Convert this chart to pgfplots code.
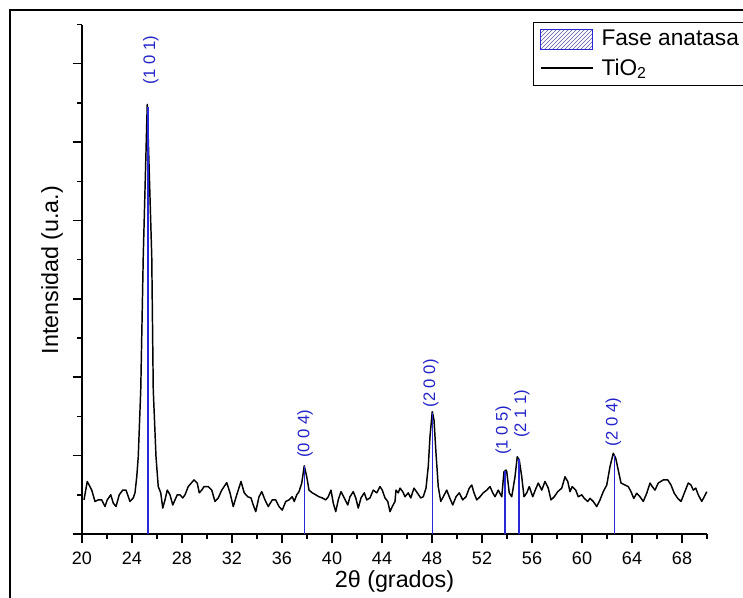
\documentclass[border=0pt]{standalone}
\usepackage{fontspec}
\setmainfont{Liberation Sans}
\usepackage{pgfplots}
\pgfplotsset{compat=1.18}
\usepackage{pgfplotstable}
\usetikzlibrary{patterns}
\definecolor{stickblue}{RGB}{40,40,215}
\definecolor{labelblue}{RGB}{35,35,200}

\pgfplotstableread{
x y
20.16 0.87
20.42 1.34
20.78 1.12
21.04 0.83
21.30 0.87
21.58 0.87
21.84 0.70
22.02 0.87
22.30 1.00
22.50 0.79
22.72 0.70
22.98 1.00
23.26 1.12
23.52 1.12
23.84 0.83
24.10 0.92
24.24 1.05
24.38 1.46
24.50 1.97
24.70 3.68
24.90 7.08
25.22 10.96
25.58 7.08
25.70 3.68
25.92 1.97
26.10 1.21
26.30 1.05
26.46 0.66
26.64 0.87
26.82 1.12
27.04 1.00
27.26 0.74
27.44 0.87
27.62 1.00
27.84 1.00
28.06 0.92
28.24 1.00
28.50 1.21
28.96 1.38
29.22 1.30
29.38 1.05
29.58 1.12
29.76 1.21
30.10 1.21
30.38 1.12
30.64 0.83
30.90 0.92
31.18 1.12
31.58 1.31
31.84 1.05
32.10 0.70
32.38 1.00
32.72 1.34
32.98 1.05
33.26 0.95
33.52 0.92
33.70 0.74
33.90 0.57
34.16 0.95
34.38 1.08
34.64 0.87
34.90 0.70
35.22 0.87
35.50 0.87
35.76 0.70
36.02 0.61
36.30 0.83
36.56 0.87
36.82 0.95
36.98 0.83
37.18 1.00
37.36 1.08
37.58 1.30
37.78 1.74
37.98 1.46
38.16 1.12
38.42 1.05
38.70 1.00
38.96 0.95
39.22 0.92
39.50 0.87
39.70 0.95
39.92 1.12
40.10 0.79
40.30 0.57
40.50 0.87
40.72 1.08
40.98 0.92
41.26 0.74
41.44 0.95
41.70 1.08
41.90 0.92
42.10 0.66
42.32 0.92
42.58 1.05
42.78 0.87
43.04 0.92
43.30 1.12
43.58 1.05
43.84 1.21
44.02 1.12
44.24 0.92
44.46 0.83
44.64 0.57
44.82 0.70
45.04 0.83
45.12 1.12
45.30 1.05
45.44 1.17
45.66 1.08
45.84 0.95
46.10 1.05
46.30 0.92
46.56 1.17
46.82 1.05
47.10 0.92
47.30 0.95
47.52 1.17
47.70 1.72
47.84 2.49
48.02 3.12
48.16 2.91
48.32 2.06
48.50 1.21
48.70 0.83
48.90 0.95
49.18 1.12
49.38 0.95
49.66 0.74
49.92 0.95
50.18 1.05
50.46 0.87
50.72 0.95
50.98 1.17
51.18 1.25
51.36 1.05
51.58 0.87
51.84 0.95
52.10 1.05
52.38 1.12
52.64 1.21
52.86 1.05
53.04 0.95
53.30 1.12
53.58 0.95
53.76 1.59
53.92 1.63
53.98 1.59
54.18 1.05
54.38 0.95
54.64 1.46
54.82 1.97
54.98 1.89
55.18 1.46
55.36 0.95
55.58 1.05
55.78 1.21
56.06 0.95
56.26 1.12
56.50 1.30
56.78 1.12
57.04 1.34
57.30 1.17
57.52 0.87
57.78 0.95
58.06 1.08
58.38 1.17
58.64 1.46
58.86 1.34
59.04 1.08
59.22 1.21
59.50 1.12
59.70 0.95
59.98 1.00
60.18 0.91
60.46 0.83
60.64 0.91
60.90 0.83
61.18 0.70
61.44 0.87
61.70 1.08
61.98 1.25
62.24 1.72
62.50 2.06
62.70 1.93
62.90 1.63
63.12 1.30
63.44 1.25
63.70 1.21
63.92 1.08
64.14 0.91
64.38 1.04
64.64 0.95
64.90 0.83
65.18 1.04
65.44 1.30
65.62 1.21
65.84 1.12
66.10 1.30
66.50 1.38
66.86 1.38
67.12 1.25
67.38 1.04
67.66 0.91
67.92 0.83
68.18 1.04
68.50 1.30
68.72 1.25
68.90 1.12
69.10 1.17
69.30 1.00
69.58 0.83
69.78 0.95
69.98 1.08
}\xrd

\pgfplotstableread{
x y
25.28 10.90
37.80 1.74
48.02 3.10
53.84 1.60
54.96 1.92
62.62 2.02
}\sticks

\begin{document}
\begin{tikzpicture}
\useasboundingbox (0pt,0pt) rectangle (557.25pt,448.5pt);
\draw[line width=0.9pt] (7.5pt,0pt) -- (7.5pt,441pt) -- (560pt,441pt);
\begin{axis}[
  at={(61.5pt,48pt)}, anchor=south west,
  scale only axis,
  width=468.75pt, height=382.1pt,
  xmin=20, xmax=70, ymin=0, ymax=13,
  axis x line=bottom, axis y line=left,
  axis line style={-, line width=1.3pt},
  tick align=outside,
  major tick length=7pt, minor tick length=4pt,
  every tick/.style={black, line width=1.1pt},
  xtick={20,24,...,68},
  minor xtick={22,26,...,70},
  ytick={0,2,...,12},
  minor ytick={1,3,...,13},
  yticklabels={},
  /pgf/number format/assume math mode=true,
  ticklabel style={font=\fontsize{13.5}{16}\selectfont},
  xticklabel style={yshift=-3pt},
  xlabel={2θ (grados)},
  ylabel={Intensidad (u.a.)},
  label style={font=\fontsize{17.5}{20}\selectfont},
  xlabel style={at={(axis description cs:0.5,-0.093)}, anchor=center},
  ylabel style={at={(axis description cs:-0.048,0.518)}, anchor=center, rotate=0},
  clip=false,
  reverse legend,
  legend cell align=left,
  legend style={at={(0.7216,1.005)}, anchor=north west, draw=black, line width=0.6pt,
    font=\fontsize{17}{17}\selectfont, inner xsep=5pt, inner ysep=4pt, row sep=4pt,
    column sep=4pt},
]
\addplot[black, line width=1.1pt, line join=round,
  legend image code/.code={\draw[black, line width=1.1pt] (0pt,0pt) -- (39pt,0pt);}]
  table[x=x, y=y] {\xrd};
\addlegendentry{TiO\textsubscript{2}}
\addplot[ycomb, stickblue, line width=1.1pt, mark=none,
  legend image code/.code={\draw[draw=stickblue, line width=0.9pt, pattern=north east lines, pattern color=gray!70!blue] (0pt,-7.5pt) rectangle (39pt,7.5pt);}]
  table[x=x, y=y] {\sticks};
\addlegendentry{Fase anatasa}

\begin{scope}[every node/.style={rotate=90, anchor=west, text=labelblue, font=\fontsize{12.5}{14}\selectfont, inner sep=0pt}]
\node at (axis cs:25.50,11.47) {(1 0 1)};
\node at (axis cs:37.84,1.94) {(0 0 4)};
\node at (axis cs:47.90,3.22) {(2 0 0)};
\node at (axis cs:53.70,2.02) {(1 0 5)};
\node at (axis cs:55.18,2.45) {(2 1 1)};
\node at (axis cs:62.50,2.23) {(2 0 4)};
\end{scope}
\end{axis}
\end{tikzpicture}
\end{document}
